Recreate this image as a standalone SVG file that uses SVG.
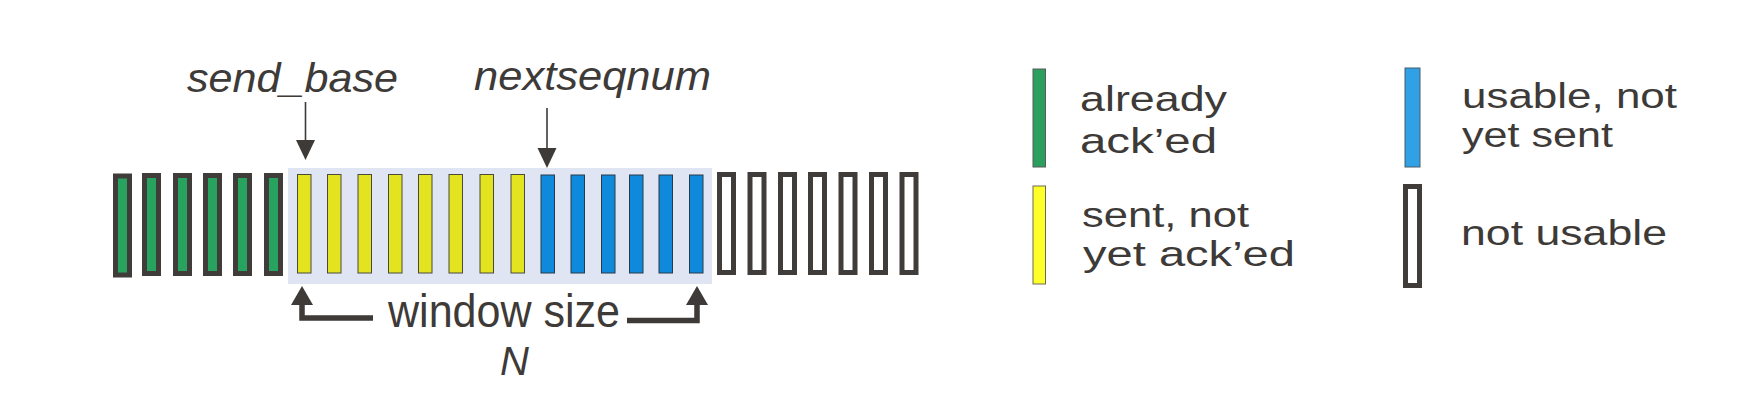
<svg xmlns="http://www.w3.org/2000/svg" width="1760" height="402" viewBox="0 0 1760 402">
<style>
.t{font-family:"Liberation Sans",Arial,sans-serif;fill:#3d3a38}
.i{font-style:italic}
.lg{font-size:35px}
.g{fill:#27a35f;stroke:#403c39;stroke-width:5}
.y{fill:#e3e320;stroke:#4a4a40;stroke-width:1}
.b{fill:#0e89db;stroke:#2a3a4a;stroke-width:1}
.w{fill:#ffffff;stroke:#403c39;stroke-width:5}
.thin{stroke:#3d3a38;stroke-width:1.6;fill:none}
.thick{stroke:#3d3a38;stroke-width:5.5;fill:none}
</style>
<defs>
<marker id="ahThin" markerUnits="userSpaceOnUse" markerWidth="20" markerHeight="20" viewBox="0 0 20 20" refX="0" refY="10" orient="auto"><path d="M0,0.5 L20,10 L0,19.5 z" fill="#3d3a38"/></marker>
<marker id="ahThick" markerUnits="userSpaceOnUse" markerWidth="19" markerHeight="22" viewBox="0 0 19 22" refX="0" refY="11" orient="auto"><path d="M0,0 L19,11 L0,22 z" fill="#3d3a38"/></marker>
</defs>
<rect width="1760" height="402" fill="#ffffff"/>

<g id="window">
<rect x="288" y="168" width="424" height="116" fill="#dfe5f3"/>
</g>

<g id="acked-packets">
<rect class="g" x="115.5" y="176" width="14" height="99"/>
<rect class="g" x="144.5" y="175.5" width="14" height="98"/>
<rect class="g" x="175.5" y="175.5" width="14" height="98"/>
<rect class="g" x="205.5" y="175.5" width="14" height="98"/>
<rect class="g" x="235.5" y="175.5" width="14" height="98"/>
<rect class="g" x="266.5" y="175.5" width="14" height="98"/>
</g>

<g id="sent-packets">
<rect class="y" x="297.5" y="174.5" width="13.5" height="98.5"/>
<rect class="y" x="327.5" y="174.5" width="13.5" height="98.5"/>
<rect class="y" x="358" y="174.5" width="13.5" height="98.5"/>
<rect class="y" x="388.5" y="174.5" width="13.5" height="98.5"/>
<rect class="y" x="418.5" y="174.5" width="13.5" height="98.5"/>
<rect class="y" x="449" y="174.5" width="13.5" height="98.5"/>
<rect class="y" x="480" y="174.5" width="13.5" height="98.5"/>
<rect class="y" x="511" y="174.5" width="13.5" height="98.5"/>
</g>

<g id="usable-packets">
<rect class="b" x="541" y="175" width="13.5" height="98"/>
<rect class="b" x="571" y="175" width="13.5" height="98"/>
<rect class="b" x="601.5" y="175" width="13.5" height="98"/>
<rect class="b" x="629.5" y="175" width="13.5" height="98"/>
<rect class="b" x="659" y="175" width="13.5" height="98"/>
<rect class="b" x="689.5" y="175" width="13.5" height="98"/>
</g>

<g id="unusable-packets">
<rect class="w" x="719.5" y="174.5" width="14" height="98"/>
<rect class="w" x="750" y="174.5" width="14" height="98"/>
<rect class="w" x="780.5" y="174.5" width="14" height="98"/>
<rect class="w" x="810.5" y="174.5" width="14" height="98"/>
<rect class="w" x="841" y="174.5" width="14" height="98"/>
<rect class="w" x="871.5" y="174.5" width="14" height="98"/>
<rect class="w" x="902" y="174.5" width="14" height="98"/>
</g>

<g id="label-send-base">
<text class="t i" x="187" y="92" font-size="40" textLength="211" lengthAdjust="spacingAndGlyphs">send_base</text>
</g>
<g id="label-nextseqnum">
<text class="t i" x="474" y="90" font-size="40" textLength="237" lengthAdjust="spacingAndGlyphs">nextseqnum</text>
</g>
<g id="label-window-size">
<text class="t" x="388" y="327" font-size="47" textLength="232" lengthAdjust="spacingAndGlyphs">window size</text>
<text class="t i" x="500" y="375" font-size="40">N</text>
</g>

<g id="connectors">
<line class="thin" x1="305.5" y1="102" x2="305.5" y2="140" marker-end="url(#ahThin)"/>
<line class="thin" x1="547" y1="108" x2="547" y2="148" marker-end="url(#ahThin)"/>
<path class="thick" d="M373,318 H302 V305" marker-end="url(#ahThick)"/>
<path class="thick" d="M627,320.5 H697 V305" marker-end="url(#ahThick)"/>
</g>

<g id="legend-acked">
<rect x="1033" y="69" width="12.5" height="98" fill="#2a9f5e" stroke="#5a5a5a" stroke-width="1"/>
<text class="t lg" x="1080" y="111" textLength="147" lengthAdjust="spacingAndGlyphs">already</text>
<text class="t lg" x="1080" y="153" textLength="137" lengthAdjust="spacingAndGlyphs">ack’ed</text>
</g>
<g id="legend-sent">
<rect x="1033" y="186" width="12.5" height="98" fill="#ffff2a" stroke="#6a6a5a" stroke-width="1"/>
<text class="t lg" x="1082" y="227" textLength="167" lengthAdjust="spacingAndGlyphs">sent, not</text>
<text class="t lg" x="1083" y="266" textLength="212" lengthAdjust="spacingAndGlyphs">yet ack’ed</text>
</g>
<g id="legend-usable">
<rect x="1405" y="68" width="15" height="99" fill="#2fa1e4" stroke="#4a5a6a" stroke-width="1"/>
<text class="t lg" x="1462" y="108" textLength="215" lengthAdjust="spacingAndGlyphs">usable, not</text>
<text class="t lg" x="1462" y="147" textLength="151" lengthAdjust="spacingAndGlyphs">yet sent</text>
</g>
<g id="legend-unusable">
<rect class="w" x="1405.5" y="186.5" width="14" height="99"/>
<text class="t lg" x="1461" y="245" textLength="206" lengthAdjust="spacingAndGlyphs">not usable</text>
</g>
</svg>
